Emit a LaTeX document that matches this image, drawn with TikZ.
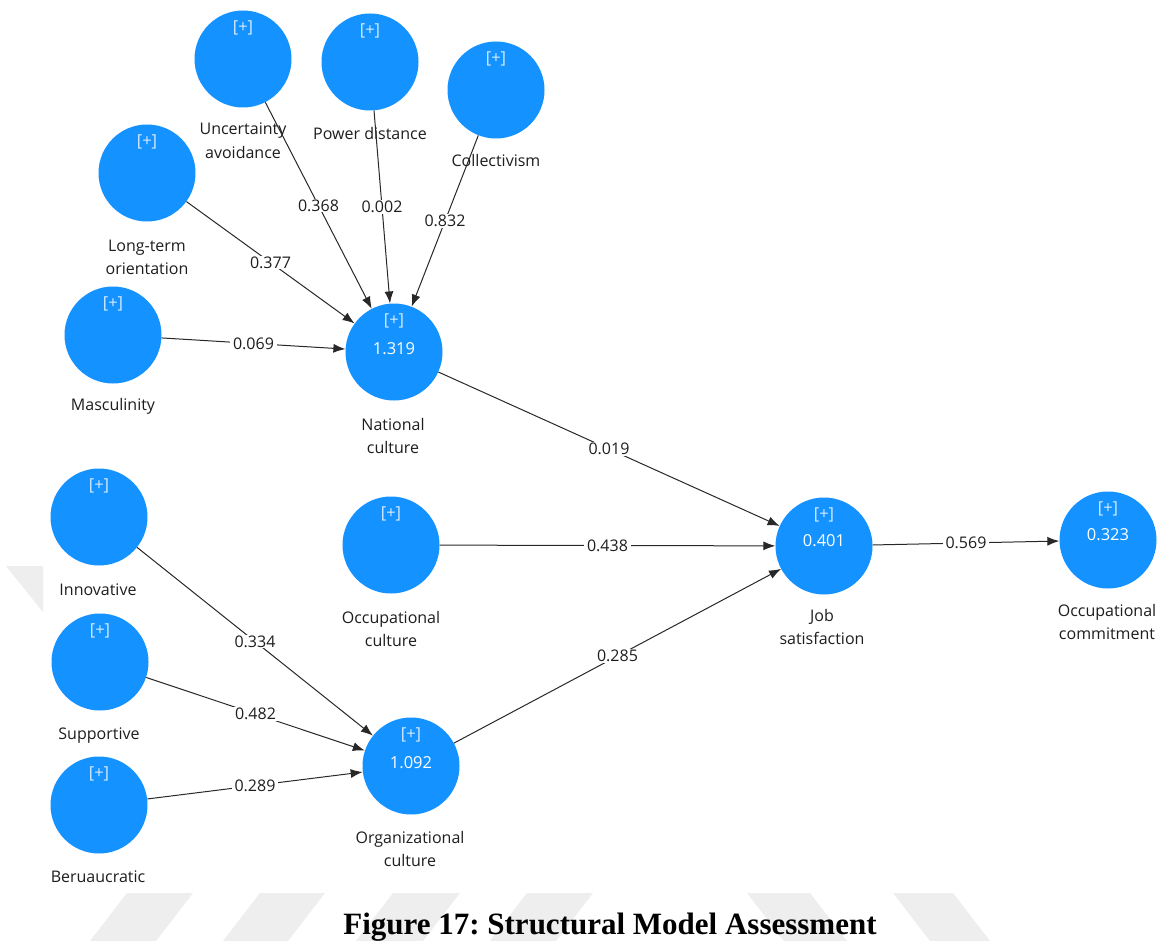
\documentclass[tikz,border=0pt]{standalone}
\usepackage{fontspec}
\setmainfont{Open Sans}
\newfontfamily\capfont{Liberation Serif}
\usetikzlibrary{arrows.meta,calc}
\definecolor{lvblue}{RGB}{20,146,255}
\definecolor{inktext}{RGB}{30,30,30}
\definecolor{edgegray}{RGB}{40,40,40}
\definecolor{markgray}{RGB}{238,238,238}
\frenchspacing

\begin{document}
\begin{tikzpicture}[x=1pt,y=-1pt,
  lvcirc/.style={circle, fill=lvblue, draw=none, minimum size=97pt, inner sep=0pt},
  plusmark/.style={text=white!82!lvblue, font=\fontsize{16.5}{18}\selectfont, inner sep=0pt},
  rsq/.style={text=white, font=\fontsize{16.5}{18}\selectfont, inner sep=0pt},
  lvname/.style={text=inktext, font=\fontsize{16}{23.5}\selectfont, align=center, anchor=base, inner sep=0pt},
  pathedge/.style={draw=edgegray, line width=1pt, -{Latex[length=12pt,width=9pt]}},
  coef/.style={fill=white, text=inktext, font=\fontsize{16}{18}\selectfont, inner xsep=3pt, inner ysep=1pt},
]
% page
\fill[white] (0,0) rectangle (1164,941);
\useasboundingbox (0,0) rectangle (1164,941);

% faint background stripes
\fill[markgray] (127,893) -- (193,893) -- (156,941) -- (90,941) -- cycle;
\fill[markgray] (260,893) -- (325,893) -- (288,941) -- (223,941) -- cycle;
\fill[markgray] (393,893) -- (460,893) -- (423,941) -- (356,941) -- cycle;
\fill[markgray] (527,893) -- (593,893) -- (556,941) -- (490,941) -- cycle;
\fill[markgray] (747,893) -- (810,893) -- (847,941) -- (784,941) -- cycle;
\fill[markgray] (893,893) -- (953,893) -- (990,941) -- (930,941) -- cycle;
\fill[markgray] (6,566) -- (43,566) -- (43,612) -- cycle;

% latent variables
\node[lvcirc] (ua)   at (243,59)  {};
\node[lvcirc] (pd)   at (370,62)  {};
\node[lvcirc] (col)  at (496,90)  {};
\node[lvcirc] (lto)  at (147,173) {};
\node[lvcirc] (mas)  at (113,335) {};
\node[lvcirc] (nc)   at (394,352) {};
\node[lvcirc] (inn)  at (99,517)  {};
\node[lvcirc] (occ)  at (391,545) {};
\node[lvcirc] (sup)  at (100,662) {};
\node[lvcirc] (org)  at (411,766) {};
\node[lvcirc] (ber)  at (99,805)  {};
\node[lvcirc] (js)   at (824,546) {};
\node[lvcirc] (ocom) at (1108,540) {};

% expand markers
\foreach \v in {ua,pd,col,lto,mas,nc,inn,occ,sup,org,ber,js,ocom}
  \node[plusmark] (\v-plus) at ($(\v)+(0,-31)$) {[+]};

% R-square values
\node[rsq] (nc-r2)   at ($(nc)+(0,-3)$)   {1.319};
\node[rsq] (org-r2)  at ($(org)+(0,-3)$)  {1.092};
\node[rsq] (js-r2)   at ($(js)+(0,-5)$)   {0.401};
\node[rsq] (ocom-r2) at ($(ocom)+(0,-5)$) {0.323};

% construct names (base = baseline of the last line)
\node[lvname] (ua-name)   at (243,158.5)  {Uncertainty\\avoidance};
\node[lvname] (pd-name)   at (370,140)    {Power distance};
\node[lvname] (col-name)  at (496,167)    {Collectivism};
\node[lvname] (lto-name)  at (147,274.5)  {Long-term\\orientation};
\node[lvname] (mas-name)  at (113,410)    {Masculinity};
\node[lvname] (nc-name)   at (393,453.5)  {National\\culture};
\node[lvname] (inn-name)  at (98,595)     {Innovative};
\node[lvname] (occ-name)  at (391,646.5)  {Occupational\\culture};
\node[lvname] (sup-name)  at (99,739)     {Supportive};
\node[lvname] (org-name)  at (410,866.5)  {Organizational\\culture};
\node[lvname] (ber-name)  at (98,882)     {Beruaucratic};
\node[lvname] (js-name)   at (822,644.5)  {Job\\satisfaction};
\node[lvname] (ocom-name) at (1107,639.5) {Occupational\\commitment};

% path coefficients
\draw[pathedge] (ua)  -- node[coef] {0.368} (nc);
\draw[pathedge] (pd)  -- node[coef] {0.002} (nc);
\draw[pathedge] (col) -- node[coef] {0.832} (nc);
\draw[pathedge] (lto) -- node[coef] {0.377} (nc);
\draw[pathedge] (mas) -- node[coef] {0.069} (nc);
\draw[pathedge] (inn) -- node[coef] {0.334} (org);
\draw[pathedge] (sup) -- node[coef] {0.482} (org);
\draw[pathedge] (ber) -- node[coef] {0.289} (org);
\draw[pathedge] (nc)  -- node[coef] {0.019} (js);
\draw[pathedge] (occ) -- node[coef] {0.438} (js);
\draw[pathedge] (org) -- node[coef] {0.285} (js);
\draw[pathedge] (js)  -- node[coef] {0.569} (ocom);

% caption
\node[anchor=base, inner sep=0pt, font=\capfont\bfseries\fontsize{31}{35}\selectfont] (caption) at (610,934) {Figure 17: Structural Model Assessment};
\end{tikzpicture}
\end{document}
